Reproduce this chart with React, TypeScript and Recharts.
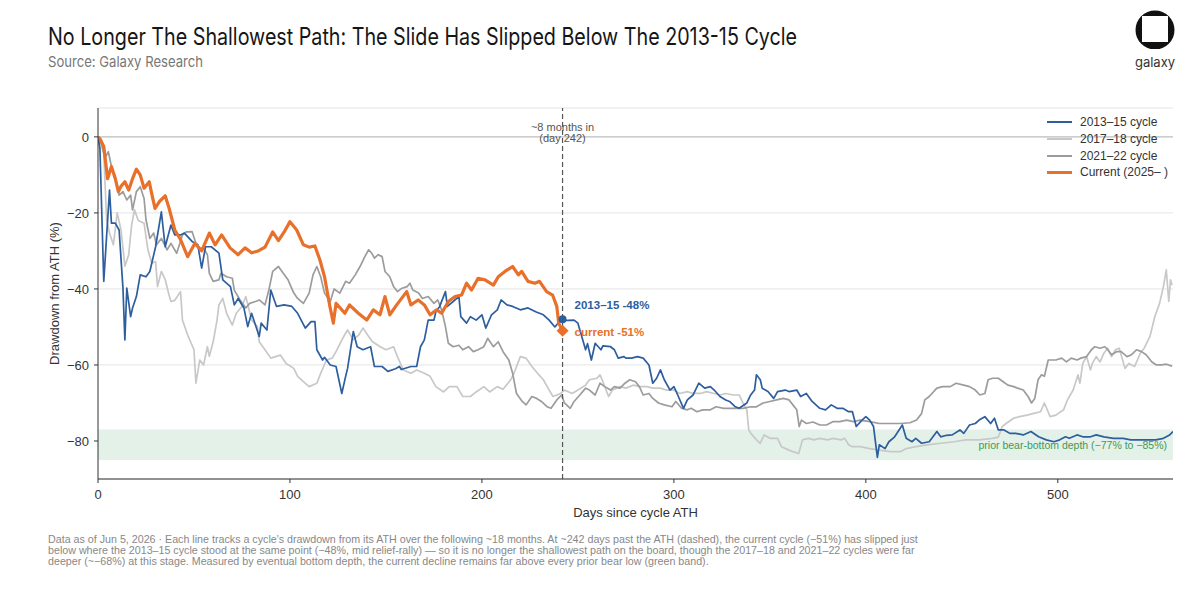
import React from "react";
import {
  CartesianGrid,
  Line,
  LineChart,
  ReferenceArea,
  ReferenceDot,
  ReferenceLine,
  XAxis,
  YAxis,
} from "recharts";

// axis + marker config
const X_TICKS = [0, 100, 200, 300, 400, 500];
const Y_TICKS = [-80, -60, -40, -20, 0];
const MARK_DAY = 242;
const BAND_LOW = -85;
const BAND_HIGH = -77;

// [days since ATH, drawdown %]
const CYCLE_2013: [number, number][] = [
  [0, 0], [1, -3], [3, -38], [6, -14], [7, -22.7], [9, -22.7], [11, -24.5], [13, -39.8], [14, -53.4],
  [15, -39.8], [17, -47.3], [18, -45], [20, -42], [22, -36.3], [25, -36.8], [27, -35.4], [30, -28.9],
  [33, -19.7], [35, -28.9], [38, -23.2], [40, -25.8], [43, -25.8], [45, -25.3], [49, -27.5], [52, -28.4],
  [54, -34.5], [56, -28.9], [59, -28.9], [63, -30.6], [65, -37.6], [69, -39.4], [71, -44.2], [73, -42.5],
  [76, -45], [78, -49.9], [80, -46.4], [84, -52.5], [85, -49], [88, -50.8], [90, -40.3], [93, -44.6],
  [97, -44.2], [101, -44.6], [104, -46.4], [108, -50.3], [111, -48.6], [113, -48.6], [114, -56],
  [117, -58.7], [118, -58], [121, -60], [124, -60.4], [127, -67.5], [129, -63], [130, -60.9],
  [133, -51.2], [135, -55.2], [138, -56], [142, -55.2], [144, -60.4], [148, -60.4], [151, -61.7],
  [155, -61], [157, -60.4], [158, -61.2], [163, -60.4], [166, -60.4], [168, -55.2], [170, -53.4],
  [172, -48.2], [175, -48.2], [176, -46], [178, -44.6], [181, -40.7], [182, -44.6], [185, -43.3],
  [188, -42], [189, -47.3], [192, -49], [194, -47.3], [197, -48.2], [200, -46.8], [202, -50.3],
  [205, -46.8], [208, -45.5], [210, -42.9], [213, -44.2], [216, -44.6], [220, -45.5], [224, -45],
  [228, -46], [232, -46.8], [235, -48.2], [238, -50], [241, -48.2], [242, -48.3], [248, -48.2],
  [250, -49], [252, -52.5], [254, -56], [255, -54.4], [257, -58.7], [259, -54.3], [262, -56],
  [263, -55], [267, -55.2], [269, -56], [271, -58.2], [274, -57.8], [275, -58.2], [278, -58.2],
  [281, -57.8], [284, -58.2], [287, -60], [289, -64.8], [291, -63.5], [293, -61.3], [295, -63.9],
  [298, -66.6], [300, -65.7], [302, -67.9], [305, -71.4], [307, -69.2], [310, -67.9], [313, -64.8],
  [316, -66.1], [319, -65.7], [321, -66.6], [324, -68.3], [327, -69.2], [329, -69.6], [332, -71],
  [334, -71.4], [338, -70], [340, -67.9], [342, -66.6], [343, -62.6], [345, -63.9], [346, -66.1],
  [349, -67], [352, -68.8], [354, -67], [358, -66.6], [360, -67], [364, -66.6], [366, -68.3],
  [369, -67.5], [372, -69.6], [376, -71.4], [379, -71.8], [382, -70.5], [385, -71.4], [388, -71.4],
  [391, -72.3], [393, -72.3], [395, -76.2], [398, -74.5], [400, -73.6], [402, -74.5], [404, -76.2],
  [406, -84.3], [407, -81], [410, -82], [412, -80.2], [415, -78.9], [419, -75.8], [421, -79.3],
  [424, -80.2], [426, -79.3], [429, -80.6], [433, -80.2], [437, -77.5], [439, -78.9], [442, -78.5],
  [445, -78.4], [449, -77.1], [451, -78], [454, -75.8], [457, -75.4], [459, -74.5], [462, -73.6],
  [465, -75.4], [467, -74], [469, -77.1], [472, -77.1], [475, -78], [478, -78], [482, -78.4],
  [486, -77.5], [490, -78.9], [494, -79.7], [498, -80.2], [501, -79.7], [504, -78.9], [506, -79.3],
  [510, -78.4], [513, -78.9], [517, -78.9], [520, -78.4], [524, -78.9], [529, -79.3], [534, -79.3],
  [538, -79.7], [541, -79.7], [546, -79.7], [551, -79.7], [555, -79.3], [558, -78.5], [560, -77.5],
];

const CYCLE_2017: [number, number][] = [
  [0, 0], [1, -1], [3, -4.3], [4.5, -21.8], [6, -25.3], [8, -28.4], [10, -20], [12, -24.5], [14, -34],
  [16, -31], [17.5, -23.2], [19, -19.2], [21, -22], [24, -22.7], [26, -29.7], [28, -33.2], [30, -32.8],
  [31, -39.4], [33, -35.4], [35, -37.5], [37, -41.6], [38, -43.3], [40, -43], [43, -40.7], [44, -48.2],
  [47, -52.5], [50, -56], [51, -64.8], [53, -58.7], [55, -60], [57, -55.2], [58, -57.7], [60, -53.9],
  [62, -48.2], [63, -44.2], [65, -42.5], [67, -46.4], [70, -49.5], [72, -46.4], [75, -44.6], [77, -42],
  [80, -48.2], [83, -49.9], [84, -53.9], [87, -56], [90, -58.2], [95, -57.4], [98, -59.6], [102, -60.9],
  [104, -63], [107, -64.4], [110, -65.7], [114, -64.8], [116, -62.2], [119, -58.7], [122, -58.2],
  [124, -56.5], [128, -52.5], [130, -50.8], [133, -53.4], [136, -52], [138, -50.3], [141, -52.5],
  [143, -53.9], [147, -55.2], [150, -56], [154, -55.2], [156, -57.8], [159, -61.3], [163, -62.2],
  [166, -61.3], [170, -62.2], [173, -63], [176, -65.7], [180, -67.1], [183, -65.7], [187, -65.7],
  [190, -68.3], [194, -68.3], [197, -67.1], [201, -65.7], [204, -67.1], [208, -65.7], [211, -66.4],
  [215, -63.9], [217, -61.8], [220, -57.8], [223, -58.2], [226, -60.4], [229, -62.2], [232, -63.9],
  [235, -66.6], [237, -68.3], [241, -67.5], [243, -66.6], [247, -67.5], [250, -66.6], [254, -65.3],
  [256, -63.9], [260, -63.5], [261.5, -62.6], [263, -64.4], [266, -68.3], [268, -66.6], [272, -65.7],
  [275, -66.1], [279, -65.3], [282, -65.7], [286, -65.7], [289, -66.1], [293, -66.1], [296, -66.6],
  [300, -66.6], [303, -67.5], [307, -67], [310, -67.5], [314, -67.5], [317, -67], [321, -67.5],
  [324, -67.9], [327, -67.5], [331, -67.9], [334, -67.9], [336, -70], [338, -71.8], [339, -77.1],
  [340, -77.9], [343, -79.7], [345, -80.6], [347, -78.4], [350, -79.3], [354, -79.3], [356, -81.5],
  [360, -82.4], [362, -82.8], [365, -83.3], [367, -79.7], [370, -79.3], [373, -79.7], [376, -79.3],
  [380, -79.7], [383, -79.3], [387, -79.7], [389, -79.3], [391, -81], [393, -81.5], [397, -81.5],
  [402, -82], [407, -82.4], [413, -82.8], [418, -82.8], [421, -82], [426, -81.5], [432, -81],
  [439, -80.6], [446, -80.2], [452, -79.7], [459, -79.7], [466, -79.3], [469, -79], [471, -76.2],
  [473, -75.4], [477, -74], [480, -73.6], [484, -73.2], [487, -72.8], [491, -72.3], [493, -70],
  [496, -73.6], [499, -73.2], [503, -71.8], [505, -69.2], [508, -66.6], [510.5, -62.6], [511.5, -64.8],
  [513, -59.6], [515, -57.8], [517, -61.3], [518, -59.6], [520, -57.8], [522, -59.2], [524, -56.9],
  [526, -55.6], [528, -57.8], [530, -56], [532, -55.6], [535, -60.9], [537, -59.6], [540, -60.4],
  [543, -56.9], [545, -55.6], [548, -52.5], [550.5, -47.3], [553, -43.8], [555, -39.4], [556.5, -35],
  [557.8, -43.3], [558.7, -37.6], [559.5, -39],
];

const CYCLE_2021: [number, number][] = [
  [0, 0], [2, -2], [3.6, -5.6], [5.4, -3.9], [7, -7.8], [9, -10.4], [11, -15.3], [13, -14.4], [15, -16.6],
  [17, -15.3], [18, -19.2], [20, -14.4], [22, -13.1], [24, -16.2], [25, -21.8], [27, -26.7], [29, -25.3],
  [30.5, -28.4], [33, -26.7], [36, -29.7], [38, -28], [41, -30.6], [44, -25.8], [46, -25], [49, -24.9],
  [51, -28], [53, -29.3], [55, -29.3], [57, -31], [58, -35.9], [60, -38], [63, -37.6], [64, -35.9],
  [67, -36.8], [70, -37.2], [71, -40.3], [74, -42.9], [77, -45], [79, -43.8], [82, -43.3], [84, -42.9],
  [87, -44.2], [89, -40.3], [91, -35.4], [94, -34.1], [96.5, -35.9], [99, -37.6], [102, -41.1],
  [104, -42.5], [107, -43.8], [110, -41.1], [112, -36.3], [114, -34.1], [116, -36.8], [118, -41.1],
  [121, -43.3], [123, -40], [126, -41.1], [129, -38], [131, -38.5], [134, -36.3], [136.5, -34.1],
  [139, -31.5], [141, -29.7], [142.6, -30.6], [144, -31.9], [146, -31], [148, -31.5], [149.5, -35.4],
  [152, -36.8], [154, -39.4], [156, -40.7], [158, -39.9], [161, -39.4], [162.5, -38.5], [164, -40.3],
  [167, -41.1], [169, -42.5], [172, -42], [175, -43.8], [177, -42.9], [179, -45.5], [181, -49.9],
  [182.5, -54.3], [185, -55.2], [188, -54.8], [190, -56], [193, -55.2], [195.5, -56.5], [198, -56],
  [201, -55.2], [203, -53], [206, -55.2], [208.5, -53.9], [211, -56.5], [214, -58.7], [216, -62.2],
  [218, -67.5], [221, -69.6], [223, -70.5], [226, -68.3], [228.5, -68.8], [231, -69.6], [234, -71],
  [236, -71.4], [239, -69.2], [241.5, -67.9], [243, -70], [246, -71.4], [248, -69.6], [251, -67.9],
  [254, -66.1], [256, -66.6], [259, -67.9], [261.5, -64.8], [264, -65.7], [267, -66.6], [269, -65.7],
  [272, -66.1], [274.5, -64.8], [277, -63.9], [280, -64.4], [282, -65.7], [284, -67.9], [287, -67.5],
  [289, -68.8], [292, -70], [295, -70.5], [299, -71], [301, -69.6], [304, -71.4], [307, -71.8],
  [309, -71.4], [312, -72.3], [315, -71.8], [319, -71.8], [322, -71], [326, -71.4], [329, -71.4],
  [333, -71.4], [336, -71.4], [340, -71], [343, -71], [346.5, -70], [350, -69.6], [353.5, -69.2],
  [357, -68.8], [360, -69.2], [362, -70.5], [364, -71.8], [365.3, -76.2], [366.5, -74.5], [369, -75.4],
  [372.5, -75], [376, -75.8], [379.5, -75.8], [383, -74.9], [386.5, -74.9], [390, -74.5], [393.4, -74.9],
  [397, -74.5], [402, -74.9], [407, -75.4], [412.5, -75.4], [418, -75.4], [423, -75.2], [426.4, -74.5],
  [429, -72.8], [430.7, -69.2], [433, -68.3], [437, -66.1], [440, -65.7], [444, -65.7], [447, -64.8],
  [451, -65.3], [454, -65.7], [457, -66.6], [459.4, -67.9], [462, -67.5], [463.7, -63.9], [466, -63.5],
  [469, -63.5], [471.5, -64.4], [474, -65.3], [477, -65.7], [479, -66.1], [482, -66.6], [484.5, -68.3],
  [486.3, -70], [488, -68.8], [489.7, -63.9], [491.5, -62.6], [493, -63], [495, -58.7], [497, -58.7],
  [499, -58.7], [502, -58.2], [504.5, -59.2], [507, -58.2], [510, -58.7], [512, -58.2], [515, -57.8],
  [517.5, -56], [519.3, -55.2], [522, -55.6], [524.5, -55.2], [526, -56], [528, -57.3], [530.6, -56.5],
  [533, -56.5], [536, -57.8], [538.4, -57.3], [541, -56], [543.6, -56.5], [546, -57.3], [549, -59.2],
  [551.4, -60], [554, -60], [556.6, -59.8], [559.5, -60.3],
];

const CURRENT: [number, number][] = [
  [0, 0], [1, -0.5], [3, -2.5], [5, -11], [7, -7.8], [9, -11], [10.6, -14.4], [12, -13], [14, -11.8],
  [16, -14], [18, -11], [20, -8.5], [22, -10], [24, -13.5], [26.7, -11.8], [28, -15], [29.7, -18.8],
  [32, -17], [35, -15.5], [37, -18.7], [40, -24.5], [43, -27], [46.7, -31.5], [50.5, -28], [54, -30],
  [58, -25.3], [61, -28.4], [64.4, -25.8], [68.8, -29.2], [73, -31], [76.6, -29.2], [80, -30.5],
  [83.5, -30], [87, -29], [91, -25], [94, -27.3], [97, -25], [100, -22.3], [103.5, -24.5], [107, -28.4],
  [110, -29], [113, -28.7], [115.6, -32.4], [118, -36.8], [120.8, -44.6], [122.6, -49], [124, -43.8],
  [128.6, -46.4], [131, -44.2], [135.6, -46.4], [140, -48.2], [143.4, -45.5], [146.9, -46.8],
  [149.5, -42], [152, -46.8], [155.6, -44.2], [160.8, -40.7], [163, -44.2], [166.8, -42.9], [170, -44.2],
  [173, -46.8], [176.4, -45.5], [179, -46.4], [182.5, -43.3], [186, -42], [189.4, -41.6], [192, -38.5],
  [194.6, -40.3], [198, -37.2], [201.6, -37.6], [206, -39], [208.5, -36.8], [212, -35.4], [216, -34.1],
  [219, -36.3], [220.7, -35.4], [224, -38], [227.6, -38.5], [230, -38], [233.7, -40.7], [236.8, -41.6],
  [239, -44.6], [240, -49], [242, -51],
];

const BLUE = "#2d5e9e";
const ORANGE = "#e8702a";
const LIGHT_GREY = "#c8c8c8";
const DARK_GREY = "#9c9c9c";
const GREEN_TEXT = "#3e9a55";

const SERIES = [
  { key: "c2013", name: "2013–15 cycle", color: BLUE, width: 1.7, points: CYCLE_2013 },
  { key: "c2017", name: "2017–18 cycle", color: LIGHT_GREY, width: 1.7, points: CYCLE_2017 },
  { key: "c2021", name: "2021–22 cycle", color: DARK_GREY, width: 1.7, points: CYCLE_2021 },
  { key: "cur", name: "Current (2025– )", color: ORANGE, width: 3.2, points: CURRENT },
];
// greys underneath, current on top
const DRAW_ORDER = ["c2017", "c2021", "c2013", "cur"];

const SANS = "'Liberation Sans', Arial, sans-serif";
const minus = (v: number) => String(v).replace("-", "−");

function MarkerNote({ cx, cy, label, color, diamond }: any) {
  return (
    <g>
      {diamond ? (
        <polygon points={`${cx},${cy - 6} ${cx + 6},${cy} ${cx},${cy + 6} ${cx - 6},${cy}`} fill={color} />
      ) : (
        <circle cx={cx} cy={cy} r={4} fill={color} />
      )}
      <text
        x={cx + 12}
        y={diamond ? cy + 1 : cy - 14}
        fill={color}
        fontSize={11.5}
        fontWeight={700}
        fontFamily={SANS}
        dominantBaseline="central"
      >
        {label}
      </text>
    </g>
  );
}

// legend drawn as an overlay so it doesn't eat plot height
function LegendBox() {
  return (
    <div style={{ position: "absolute", left: 1047, top: 114, fontFamily: SANS, fontSize: 12, color: "#333" }}>
      {SERIES.map((s) => (
        <div key={s.key} style={{ display: "flex", alignItems: "center", height: 16.7 }}>
          <span
            style={{
              display: "inline-block",
              width: 25,
              borderTop: `${s.key === "cur" ? 3 : 2}px solid ${s.color}`,
              marginRight: 8,
            }}
          />
          {s.name}
        </div>
      ))}
    </div>
  );
}

export default function App() {
  return (
    <div style={{ position: "absolute", left: 0, top: 0, width: 1200, height: 597, background: "#fff", overflow: "hidden" }}>
      <LineChart width={1200} height={597} margin={{ top: 108, right: 27, bottom: 78, left: 48 }}>
        <ReferenceArea y1={BAND_LOW} y2={BAND_HIGH} fill="#e4f1e9" fillOpacity={1} stroke="none"
          label={{ value: "prior bear-bottom depth (−77% to −85%)", position: "insideRight", offset: 6, fill: GREEN_TEXT, fontSize: 10.5, fontFamily: SANS }}
        />
        <CartesianGrid vertical={false} stroke="#e4e4e4" />
        <XAxis
          type="number"
          dataKey="day"
          domain={[0, 560]}
          ticks={X_TICKS}
          allowDataOverflow
          height={40}
          tickSize={4}
          tickMargin={7}
          stroke="#333"
          tick={{ fill: "#333", fontSize: 13, fontFamily: SANS }}
          label={{ value: "Days since cycle ATH", position: "insideBottom", offset: 2, fill: "#333", fontSize: 13, fontFamily: SANS }}
        />
        <YAxis
          type="number"
          domain={[-90, 7.6]}
          ticks={Y_TICKS}
          allowDataOverflow
          width={50}
          tickSize={4}
          tickMargin={5}
          stroke="#333"
          tickFormatter={minus}
          tick={{ fill: "#333", fontSize: 13, fontFamily: SANS }}
          label={{ value: "Drawdown from ATH (%)", angle: -90, position: "insideLeft", offset: 6, textAnchor: "middle", fill: "#333", fontSize: 13, fontFamily: SANS }}
        />
        <ReferenceLine y={0} stroke="#b8b8b8" strokeWidth={1} />
        {DRAW_ORDER.map((k) => {
          const s = SERIES.find((x) => x.key === k)!;
          return (
            <Line
              key={s.key}
              name={s.name}
              data={s.points.map(([day, v]) => ({ day, v }))}
              dataKey="v"
              type="linear"
              stroke={s.color}
              strokeWidth={s.width}
              strokeLinejoin="round"
              dot={false}
              activeDot={false}
              isAnimationActive={false}
            />
          );
        })}
        <ReferenceLine x={MARK_DAY} stroke="#555" strokeWidth={1.2} strokeDasharray="5 3" />
        <ReferenceDot
          x={MARK_DAY}
          y={0}
          r={0}
          shape={(p: any) => (
            <g fontFamily={SANS} fontSize={11} fill="#555" textAnchor="middle">
              <text x={p.cx} y={p.cy - 10} dominantBaseline="central">~8 months in</text>
              <text x={p.cx} y={p.cy + 1} dominantBaseline="central">(day 242)</text>
            </g>
          )}
        />
        <ReferenceDot x={MARK_DAY} y={-48} shape={(p: any) => <MarkerNote {...p} color={BLUE} label="2013–15 -48%" />} />
        <ReferenceDot x={MARK_DAY} y={-51} shape={(p: any) => <MarkerNote {...p} color={ORANGE} label="current -51%" diamond />} />
      </LineChart>

      <LegendBox />

      <svg width={1200} height={100} style={{ position: "absolute", left: 0, top: 0, pointerEvents: "none" }}>
        <text x={48} y={45} fontFamily="Inter, sans-serif" fontSize={24} fill="#161616" textLength={749} lengthAdjust="spacingAndGlyphs">
          No Longer The Shallowest Path: The Slide Has Slipped Below The 2013-15 Cycle
        </text>
        <text x={48} y={67} fontFamily="Inter, sans-serif" fontSize={15} fill="#777" textLength={155} lengthAdjust="spacingAndGlyphs">
          Source: Galaxy Research
        </text>
        <clipPath id="logoClip">
          <rect x={1130} y={5} width={50} height={44} />
        </clipPath>
        <circle cx={1155} cy={30} r={19.5} fill="#111" clipPath="url(#logoClip)" />
        <rect x={1142} y={16} width={26} height={26} fill="#fff" />
        <text x={1155} y={67} textAnchor="middle" fontFamily="Inter, sans-serif" fontSize={13} fill="#333">galaxy</text>
      </svg>

      <div style={{ position: "absolute", left: 48, top: 534, fontFamily: SANS, fontSize: 10.7, lineHeight: "11px", color: "#888", whiteSpace: "nowrap" }}>
        <div>Data as of Jun 5, 2026 · Each line tracks a cycle's drawdown from its ATH over the following ~18 months. At ~242 days past the ATH (dashed), the current cycle (−51%) has slipped just</div>
        <div>below where the 2013–15 cycle stood at the same point (−48%, mid relief-rally) — so it is no longer the shallowest path on the board, though the 2017–18 and 2021–22 cycles were far</div>
        <div>deeper (~−68%) at this stage. Measured by eventual bottom depth, the current decline remains far above every prior bear low (green band).</div>
      </div>
    </div>
  );
}
